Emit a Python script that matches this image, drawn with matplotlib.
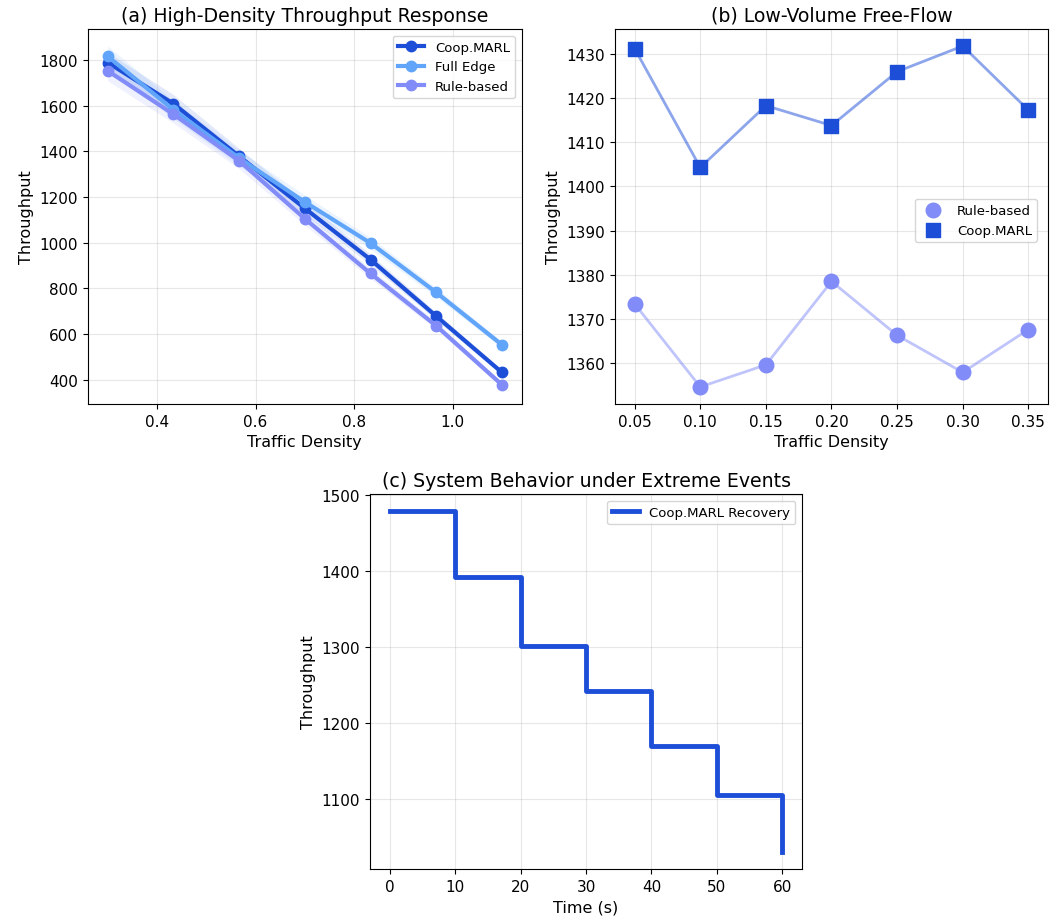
import matplotlib
matplotlib.use("Agg")
import matplotlib.pyplot as plt
import numpy as np

# Panel (a) data
density_a = [0.3, 0.4333, 0.5667, 0.7, 0.8333, 0.9667, 1.1]
coop_a = [1788, 1608, 1378, 1150, 926, 678, 432]
edge_a = [1815, 1582, 1370, 1178, 998, 782, 553]
rule_a = [1752, 1562, 1358, 1105, 865, 636, 378]

# Panel (b) data
density_b = [0.05, 0.10, 0.15, 0.20, 0.25, 0.30, 0.35]
rule_b = [1373.4, 1354.6, 1359.6, 1378.5, 1366.3, 1357.9, 1367.6]
coop_b = [1431.2, 1404.3, 1418.3, 1413.8, 1426.0, 1431.8, 1417.3]

# Panel (c) data
time_c = [0, 10, 20, 30, 40, 50, 60]
coop_c = [1479, 1392, 1302, 1243, 1170, 1106, 1031]

C_COOP = "#1d4ed8"
C_EDGE = "#60a5fa"
C_RULE = "#818cf8"

plt.rcParams['font.family'] = ['DejaVu Sans']
fig = plt.figure(figsize=(10.5, 9.2), dpi=100)

ax1 = fig.add_axes([0.0838, 0.5598, 0.413, 0.4076])
ax2 = fig.add_axes([0.5857, 0.5598, 0.4124, 0.4076])
ax3 = fig.add_axes([0.3524, 0.0543, 0.4114, 0.4076])

# (a)
for y, c, lab in [(coop_a, C_COOP, "Coop.MARL"), (edge_a, C_EDGE, "Full Edge"), (rule_a, C_RULE, "Rule-based")]:
    y = np.array(y, dtype=float)
    ax1.fill_between(density_a, y * 0.975, y * 1.025, color=c, alpha=0.12, linewidth=0)
    ax1.plot(density_a, y, color=c, lw=3, marker='o', ms=7.5, label=lab)
ax1.set_title("(a) High-Density Throughput Response", fontsize=13.6)
ax1.set_xlabel("Traffic Density", fontsize=11.5)
ax1.set_ylabel("Throughput", fontsize=11.5)
ax1.grid(True, alpha=0.3)
ax1.set_xticks([0.4, 0.6, 0.8, 1.0])
ax1.set_yticks([400, 600, 800, 1000, 1200, 1400, 1600, 1800])
ax1.tick_params(labelsize=11)
ax1.legend(loc='upper right', fontsize=9.5)

# (b)
ax2.plot(density_b, rule_b, color=C_RULE, lw=2, alpha=0.5, zorder=2)
ax2.plot(density_b, coop_b, color=C_COOP, lw=2, alpha=0.5, zorder=2)
ax2.scatter(density_b, rule_b, color=C_RULE, marker='o', s=110, label="Rule-based", zorder=3)
ax2.scatter(density_b, coop_b, color=C_COOP, marker='s', s=110, label="Coop.MARL", zorder=3)
ax2.set_title("(b) Low-Volume Free-Flow", fontsize=13.6)
ax2.set_xlabel("Traffic Density", fontsize=11.5)
ax2.set_ylabel("Throughput", fontsize=11.5)
ax2.grid(True, alpha=0.3)
ax2.set_xticks(density_b)
ax2.set_xticklabels([f"{v:.2f}" for v in density_b])
ax2.set_yticks([1360, 1370, 1380, 1390, 1400, 1410, 1420, 1430])
ax2.tick_params(labelsize=11)
ax2.legend(loc='center right', bbox_to_anchor=(0.99, 0.49), fontsize=9.5)

# (c)
ax3.step(time_c, coop_c, where='post', color=C_COOP, lw=3.5, label="Coop.MARL Recovery")
ax3.set_title("(c) System Behavior under Extreme Events", fontsize=13.6)
ax3.set_xlabel("Time (s)", fontsize=11.5)
ax3.set_ylabel("Throughput", fontsize=11.5)
ax3.grid(True, alpha=0.3)
ax3.set_xticks(time_c)
ax3.set_yticks([1100, 1200, 1300, 1400, 1500])
ax3.tick_params(labelsize=11)
ax3.legend(loc='upper right', fontsize=9.5)

fig.savefig("out.png", dpi=100)
